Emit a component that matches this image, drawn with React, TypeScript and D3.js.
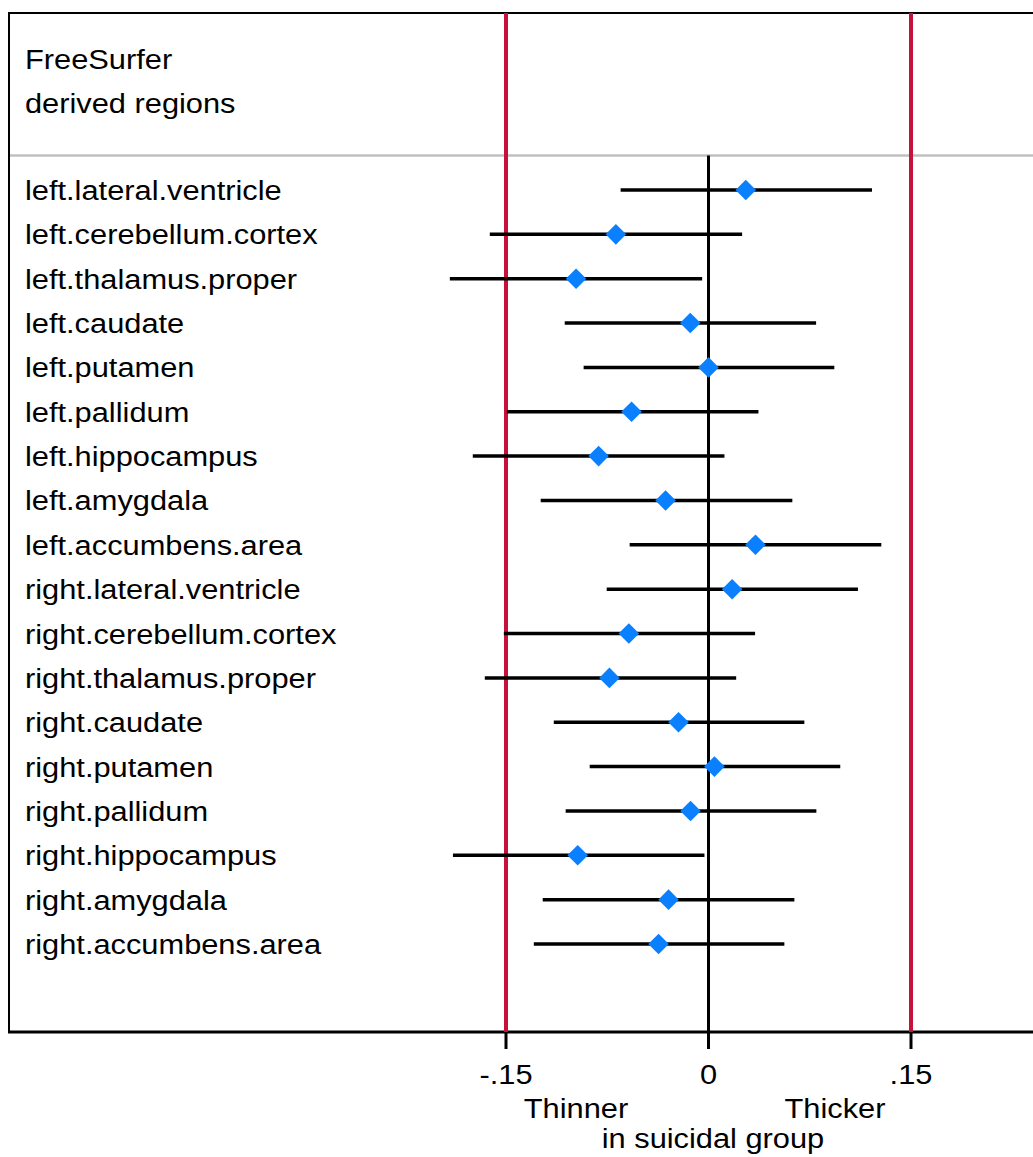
import React from "react";
import * as d3 from "d3";

const regions = [
  "left.lateral.ventricle",
  "left.cerebellum.cortex",
  "left.thalamus.proper",
  "left.caudate",
  "left.putamen",
  "left.pallidum",
  "left.hippocampus",
  "left.amygdala",
  "left.accumbens.area",
  "right.lateral.ventricle",
  "right.cerebellum.cortex",
  "right.thalamus.proper",
  "right.caudate",
  "right.putamen",
  "right.pallidum",
  "right.hippocampus",
  "right.amygdala",
  "right.accumbens.area",
];
const estimates = [0.0276, -0.0686, -0.0981, -0.0135, 0.0, -0.057, -0.0814, -0.0318, 0.0348, 0.0175, -0.059, -0.0734, -0.0222, 0.0044, -0.0133, -0.0969, -0.0296, -0.037];
const lower = [-0.0651, -0.162, -0.1916, -0.1065, -0.0925, -0.1494, -0.1746, -0.1243, -0.0584, -0.0754, -0.1516, -0.1657, -0.1146, -0.088, -0.1058, -0.1893, -0.1228, -0.1294];
const upper = [0.1211, 0.0249, -0.0047, 0.0797, 0.0932, 0.037, 0.0118, 0.0621, 0.128, 0.1107, 0.0345, 0.0205, 0.071, 0.0976, 0.0799, -0.003, 0.0636, 0.0562];
const tickValues = [-0.15, 0, 0.15];
const tickLabels = ["-.15", "0", ".15"];
const refLines = [-0.15, 0.15];
const headerLines = ["FreeSurfer", "derived regions"];

const RED = "#c8103c";
const BLUE = "#0a80ff";
const FONT = "'Liberation Sans', Arial, Helvetica, sans-serif";
const FS = 28;
const SX = 1.1;

export default function App() {
  const W = 1033;
  const H = 1157;
  const frameL = 9;
  const frameT = 13;
  const frameB = 1032;
  const headerY = 155.5;
  const x = d3.scaleLinear().domain([-0.15, 0.15]).range([506, 911]);
  const y = d3.scalePoint<string>().domain(regions).range([190, 944]);
  const diamond = d3.symbol().type(d3.symbolDiamond2).size(270)();

  const txt = (s: string, tx: number, ty: number, anchor: string = "start", key?: any) => (
    <text
      key={key ?? s}
      transform={`translate(${tx},${ty}) scale(${SX},1)`}
      textAnchor={anchor}
      fontFamily={FONT}
      fontSize={FS}
      fill="#000"
    >
      {s}
    </text>
  );

  return (
    <svg width={W} height={H} style={{ position: "absolute", left: 0, top: 0, display: "block" }}>
      <rect x={0} y={0} width={W} height={H} fill="#fff" />
      <line x1={frameL} x2={W} y1={headerY} y2={headerY} stroke="#c0c0c0" strokeWidth={2.5} />
      <line x1={frameL} x2={W} y1={frameT} y2={frameT} stroke="#000" strokeWidth={2} />
      <line x1={frameL} x2={frameL} y1={frameT - 1} y2={frameB + 1} stroke="#000" strokeWidth={2} />
      <line x1={frameL - 1} x2={W} y1={frameB} y2={frameB} stroke="#000" strokeWidth={3} />
      {headerLines.map((s, i) => txt(s, 25, 68.5 + i * 44, "start", "h" + i))}
      <line x1={x(0)} x2={x(0)} y1={headerY} y2={frameB} stroke="#000" strokeWidth={3} />
      {refLines.map((v) => (
        <line key={"r" + v} x1={x(v)} x2={x(v)} y1={frameT} y2={frameB} stroke={RED} strokeWidth={4} />
      ))}
      {tickValues.map((v, i) => (
        <g key={"t" + i}>
          <line x1={x(v)} x2={x(v)} y1={frameB} y2={frameB + 17} stroke="#000" strokeWidth={3} />
          {txt(tickLabels[i], x(v), 1084, "middle", "tl" + i)}
        </g>
      ))}
      {txt("Thinner", 576, 1118, "middle", "thin")}
      {txt("Thicker", 835, 1118, "middle", "thick")}
      {txt("in suicidal group", 713, 1148, "middle", "sg")}
      {regions.map((r, i) => {
        const yy = y(r) as number;
        return (
          <g key={r}>
            {txt(r, 25, yy + 10, "start", "l" + i)}
            <line x1={x(lower[i])} x2={x(upper[i])} y1={yy} y2={yy} stroke="#000" strokeWidth={3.5} />
            <path d={diamond as string} transform={`translate(${x(estimates[i])},${yy})`} fill={BLUE} />
          </g>
        );
      })}
    </svg>
  );
}
